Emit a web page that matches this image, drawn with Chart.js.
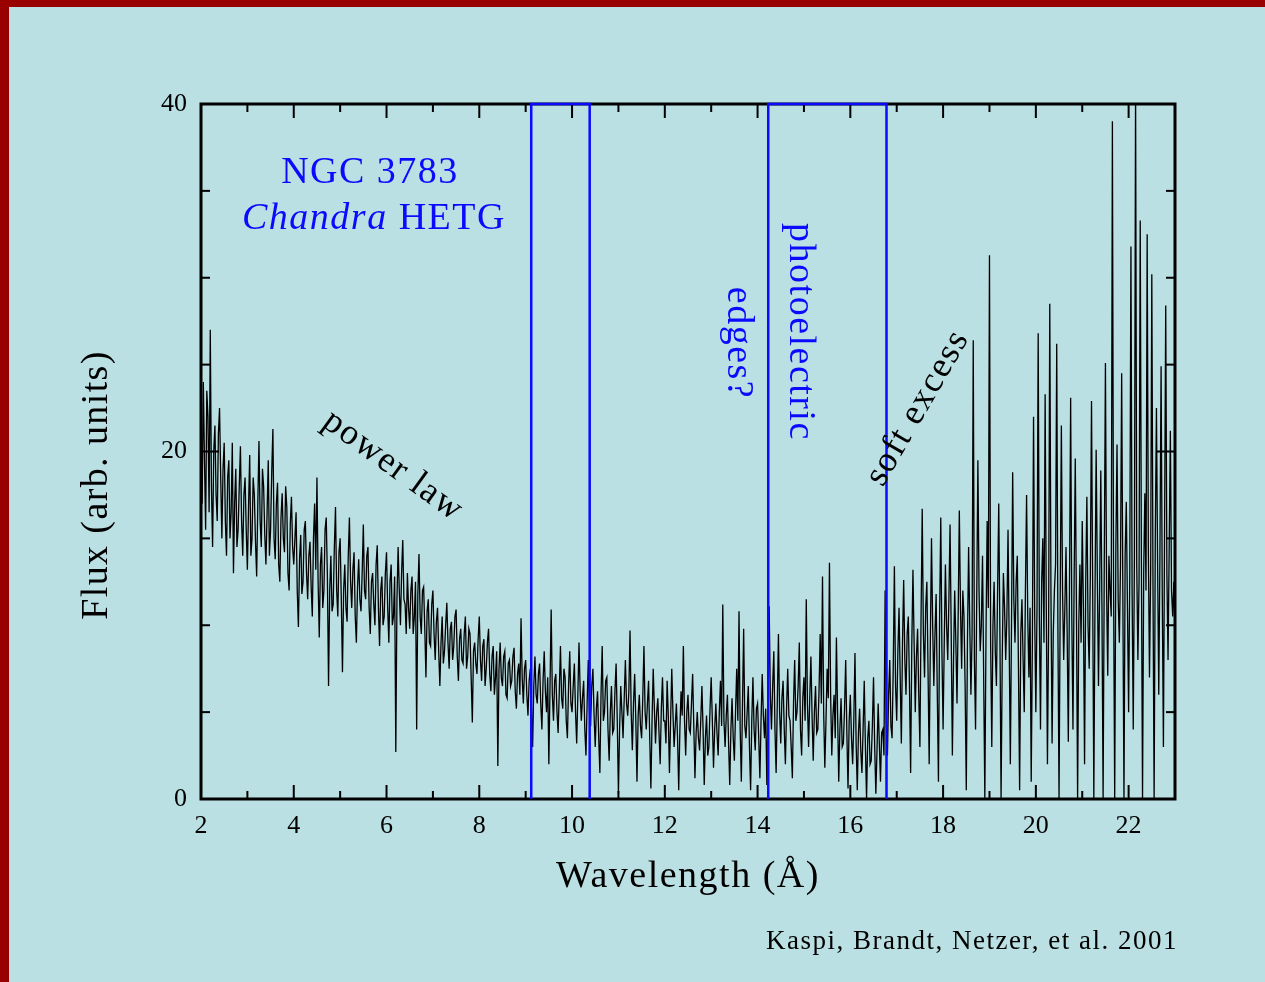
<!DOCTYPE html>
<html lang="en">
<head>
<meta charset="utf-8">
<title>NGC 3783 Chandra HETG</title>
<script src="https://cdn.jsdelivr.net/npm/chart.js@4.4.1/dist/chart.umd.min.js"></script>
<style>
    html, body { margin: 0; padding: 0; overflow: hidden; background: #bbe0e3; }
    canvas { display: block; }
</style>
</head>
<body>
<canvas id="grafico" width="1265" height="982"></canvas>
<script>
// Espectro, un valor cada 0.025 A desde 2.000 A
const wavelengthStart = 2.0;
const wavelengthStep = 0.025;

const flux = [
    // 2.000 - 2.975
    21.5, 17.0, 24.0, 19.5, 15.5, 23.5, 22.0, 16.5, 27.0, 18.0, 14.5, 20.0, 21.5, 17.5, 16.0, 21.0, 22.5, 18.5, 15.0, 19.0,
    20.5, 16.0, 14.0, 18.5, 19.5, 15.0, 16.5, 20.5, 13.0, 17.0, 19.0, 14.5, 15.5, 18.0, 20.3, 16.0, 14.0, 17.5, 18.5, 15.5,
    // 3.000 - 3.975
    13.2, 16.8, 19.8, 14.0, 15.0, 18.5, 17.5, 14.8, 12.8, 17.0, 20.6, 16.0, 14.5, 19.0, 18.0, 15.2, 13.5, 16.5, 19.5, 14.0,
    15.5, 18.8, 21.3, 15.0, 13.8, 17.0, 18.2, 13.5, 12.5, 16.2, 17.6, 15.0, 14.2, 18.0, 16.8, 13.0, 12.0, 15.8, 17.4, 14.5,
    // 4.000 - 4.975
    13.5, 15.0, 16.5, 12.0, 9.9, 13.8, 15.2, 11.8, 12.5, 15.5, 16.0, 13.0, 11.5, 14.0, 14.8, 12.2, 10.5, 15.0, 17.0, 13.2,
    18.5, 12.5, 9.3, 13.5, 14.5, 11.0, 12.0, 15.5, 16.2, 12.8, 6.5, 12.0, 14.0, 10.8, 11.2, 14.5, 16.8, 12.0, 10.5, 14.2,
    // 5.000 - 5.975
    15.0, 11.5, 7.3, 12.0, 13.5, 11.0, 10.2, 14.0, 16.2, 12.5, 11.0, 13.2, 14.2, 10.5, 9.0, 12.2, 13.8, 11.5, 10.8, 13.0,
    15.8, 12.0, 11.5, 14.0, 14.5, 11.0, 9.5, 12.5, 13.0, 11.2, 10.0, 13.5, 14.6, 11.0, 8.8, 12.0, 12.8, 10.0, 10.5, 13.0,
    // 6.000 - 6.975
    14.2, 11.0, 9.0, 12.5, 13.5, 10.0, 10.5, 12.8, 2.7, 11.5, 14.5, 12.0, 10.0, 13.0, 14.9, 11.5, 11.2, 9.5, 13.0, 11.0,
    9.8, 12.0, 12.8, 9.5, 10.5, 12.5, 4.0, 11.8, 14.1, 10.5, 9.5, 12.0, 12.2, 9.8, 7.0, 10.8, 11.5, 9.0, 8.8, 11.2,
    // 7.000 - 7.975
    12.0, 9.5, 8.0, 10.2, 11.0, 8.5, 6.5, 9.0, 10.5, 7.8, 8.5, 10.0, 11.3, 9.0, 7.5, 9.8, 10.2, 8.0, 8.8, 10.5,
    10.9, 8.2, 6.8, 9.2, 9.8, 8.0, 7.8, 9.5, 10.5, 7.5, 8.2, 9.8, 9.5, 7.0, 4.4, 8.5, 9.0, 7.8, 7.2, 9.2,
    // 8.000 - 8.975
    10.5, 8.0, 6.8, 8.8, 9.2, 6.5, 7.5, 9.0, 9.8, 7.2, 6.2, 8.2, 8.8, 6.0, 7.0, 8.5, 1.9, 7.5, 9.0, 7.0,
    6.5, 8.2, 8.5, 6.0, 5.8, 7.8, 8.0, 6.5, 6.8, 8.2, 8.7, 6.2, 5.2, 7.2, 7.8, 6.0, 10.4, 7.0, 5.5, 7.5,
    // 9.000 - 9.975
    8.0, 6.0, 4.8, 6.8, 7.5, 5.2, 3.0, 6.5, 8.2, 6.0, 5.5, 7.2, 7.8, 5.5, 4.0, 6.8, 8.5, 6.2, 5.0, 7.0,
    2.0, 6.5, 10.9, 6.0, 4.5, 6.8, 7.2, 5.0, 3.8, 6.2, 8.8, 5.8, 5.2, 7.5, 7.0, 4.5, 3.5, 6.5, 8.5, 5.5,
    // 10.000 - 10.975
    5.0, 6.5, 7.8, 5.0, 3.2, 6.0, 9.0, 6.2, 4.5, 5.8, 6.8, 4.0, 2.5, 5.5, 8.0, 5.0, 4.2, 6.5, 7.5, 4.8,
    3.0, 5.2, 6.2, 3.5, 1.5, 6.0, 8.8, 4.5, 5.0, 6.8, 7.0, 4.0, 2.2, 5.0, 6.5, 3.8, 4.0, 6.2, 7.8, 4.5,
    // 11.000 - 11.975
    0.3, 4.0, 6.5, 5.0, 3.5, 5.8, 8.0, 5.5, 4.8, 6.2, 9.7, 5.0, 2.8, 5.5, 7.2, 4.5, 1.0, 4.8, 6.0, 4.2,
    3.5, 5.8, 8.8, 5.0, 4.0, 5.5, 6.8, 3.5, 0.6, 4.5, 7.5, 5.2, 3.2, 5.0, 5.8, 3.8, 2.0, 5.2, 7.0, 4.5,
    // 12.000 - 12.975
    4.5, 3.2, 6.8, 4.8, 1.5, 4.5, 7.5, 5.0, 3.0, 4.2, 5.5, 3.5, 0.5, 4.0, 6.2, 4.8, 8.8, 4.5, 2.5, 5.0,
    6.0, 4.0, 3.8, 5.5, 7.2, 4.2, 1.2, 3.8, 5.0, 3.5, 2.8, 4.5, 6.5, 4.0, 0.8, 3.5, 4.8, 2.5, 3.0, 5.2,
    // 13.000 - 13.975
    7.0, 4.5, 1.8, 4.0, 5.5, 3.8, 2.5, 5.0, 6.8, 4.2, 11.2, 4.5, 3.0, 4.8, 6.0, 3.2, 0.8, 4.0, 5.8, 3.5,
    2.2, 5.0, 7.5, 4.5, 10.8, 4.0, 1.0, 5.5, 9.8, 4.2, 3.5, 5.0, 6.5, 3.0, 0.5, 4.5, 7.0, 4.0, 2.8, 5.2,
    // 14.000 - 14.975
    5.5, 3.5, 1.2, 4.5, 7.2, 4.8, 3.5, 5.2, 0.8, 5.0, 11.1, 6.0, 4.0, 6.5, 8.5, 4.0, 1.5, 5.5, 9.5, 5.0,
    3.2, 5.8, 6.8, 4.0, 2.0, 5.2, 7.5, 4.8, 4.5, 3.0, 1.2, 5.5, 8.0, 4.5, 5.0, 6.5, 9.0, 4.0, 2.5, 5.8,
    // 15.000 - 15.975
    7.0, 4.5, 11.5, 5.5, 3.0, 5.8, 8.2, 4.8, 2.2, 5.0, 6.5, 3.8, 4.0, 6.2, 9.5, 5.5, 12.8, 5.0, 1.8, 4.5,
    7.5, 5.8, 13.6, 6.0, 2.5, 4.8, 6.0, 3.5, 9.3, 5.0, 1.0, 4.0, 5.8, 3.0, 3.2, 5.2, 8.0, 3.8, 0.6, 4.5,
    // 16.000 - 16.975
    6.0, 3.5, 2.0, 4.5, 8.4, 3.2, 0.5, 3.8, 5.2, 2.8, 1.5, 4.0, 6.8, 3.0, 0.0, 3.5, 4.5, 2.0, 2.2, 4.2,
    7.0, 3.0, 0.3, 2.8, 5.5, 3.2, 1.0, 3.8, 4.0, 2.5, 12.0, 4.5, 2.5, 6.0, 8.0, 4.2, 3.5, 7.5, 13.4, 6.5,
    // 17.000 - 17.975
    4.5, 8.5, 11.0, 7.0, 3.2, 9.0, 12.6, 8.0, 6.0, 9.5, 10.5, 6.5, 1.5, 8.8, 13.2, 9.0, 5.0, 8.2, 9.8, 6.0,
    3.0, 10.5, 16.7, 9.5, 7.0, 11.0, 12.5, 7.5, 2.0, 9.0, 15.0, 10.0, 6.5, 9.5, 11.8, 6.0, 1.0, 10.5, 16.2, 8.5,
    // 18.000 - 18.975
    4.0, 9.0, 13.5, 10.0, 8.0, 11.5, 15.8, 9.5, 2.5, 8.0, 12.0, 9.0, 5.5, 10.5, 16.6, 11.0, 7.5, 12.0, 10.5, 6.5,
    0.5, 9.0, 14.5, 10.0, 6.0, 9.5, 26.4, 8.0, 4.0, 11.5, 19.5, 12.0, 8.5, 10.0, 14.0, 7.0, 0.0, 9.5, 16.0, 11.0,
    // 19.000 - 19.975
    31.3, 9.0, 3.0, 10.0, 12.5, 8.5, 6.5, 12.0, 17.0, 9.5, 0.0, 8.0, 13.0, 11.0, 8.0, 10.5, 15.5, 9.0, 2.0, 10.0,
    18.8, 11.5, 9.0, 12.5, 14.0, 7.5, 0.5, 9.5, 11.5, 8.0, 5.0, 12.0, 17.5, 10.5, 7.0, 11.0, 1.0, 9.0, 22.0, 10.5,
    // 20.000 - 20.975
    5.0, 11.0, 26.8, 10.5, 4.0, 12.5, 15.0, 9.0, 23.3, 11.0, 2.0, 10.0, 28.5, 12.0, 3.2, 9.5, 12.0, 13.5, 26.2, 10.0,
    0.0, 11.5, 21.5, 12.0, 8.0, 11.0, 14.5, 9.5, 3.3, 12.0, 23.1, 10.5, 4.0, 12.5, 19.6, 11.0, 0.0, 10.0, 13.5, 9.0,
    // 21.000 - 21.975
    16.0, 11.0, 2.0, 12.5, 17.4, 10.0, 7.5, 13.0, 22.9, 12.0, 0.0, 11.5, 20.1, 13.0, 6.5, 12.0, 18.9, 11.0, 0.0, 13.5,
    25.1, 12.0, 7.1, 14.0, 12.0, 10.5, 39.0, 12.5, 0.0, 14.5, 20.4, 11.5, 9.0, 13.5, 24.5, 12.0, 0.0, 14.0, 17.1, 11.0,
    // 22.000 - 22.975
    5.0, 13.0, 31.8, 12.0, 4.0, 14.0, 41.0, 13.5, 8.0, 12.5, 33.3, 14.0, 0.0, 13.0, 17.6, 12.0, 32.5, 14.5, 7.0, 13.0,
    30.2, 12.5, 0.0, 15.0, 22.5, 13.5, 6.0, 14.0, 24.9, 12.0, 3.0, 15.5, 28.4, 13.0, 8.0, 14.5, 21.2, 12.0, 10.5, 12.5,
    // 23.000
    9.5
];

// Bandas de los posibles bordes fotoelectricos (A)
const edgeBands = [[9.12, 10.38], [14.23, 16.78]];

const xTickValues = [2, 4, 6, 8, 10, 12, 14, 16, 18, 20, 22];
const xMinorTicks = [3, 5, 7, 9, 11, 13, 15, 17, 19, 21, 23];
const yTickValues = [0, 20, 40];
const yMinorTicks = [5, 10, 15, 25, 30, 35];

const SERIF = '"Liberation Serif", "Times New Roman", serif';
const AZUL = '#0a0aff';

document.addEventListener('DOMContentLoaded', () => {
    dibujarGrafico();
});

function dibujarGrafico() {
    const puntos = flux.map((f, i) => ({
        x: +(wavelengthStart + i * wavelengthStep).toFixed(3),
        y: f
    }));

    // Cada banda es un rectangulo abierto por abajo
    const bandas = edgeBands.map(([a, b]) => ({
        data: [{ x: a, y: 0 }, { x: a, y: 40 }, { x: b, y: 40 }, { x: b, y: 0 }],
        borderColor: AZUL,
        borderWidth: 2.5,
        pointRadius: 0,
        clip: false,
        order: 0
    }));

    const ctx = document.getElementById('grafico').getContext('2d');
    new Chart(ctx, {
        type: 'line',
        data: {
            datasets: [{
                data: puntos,
                borderColor: '#000000',
                borderWidth: 1.3,
                pointRadius: 0,
                tension: 0,
                order: 1
            }, ...bandas]
        },
        options: {
            responsive: false,
            animation: false,
            events: [],
            layout: { padding: { left: 0, right: 90, top: 104, bottom: 0 } },
            plugins: {
                legend: { display: false },
                tooltip: { enabled: false }
            },
            scales: {
                x: {
                    type: 'linear',
                    min: 2,
                    max: 23,
                    grid: { display: false, drawTicks: false },
                    border: { display: false },
                    ticks: {
                        color: '#000',
                        padding: 12,
                        maxRotation: 0,
                        font: { family: SERIF, size: 26 }
                    },
                    afterBuildTicks: (axis) => {
                        axis.ticks = xTickValues.map(v => ({ value: v }));
                    },
                    afterFit: (axis) => { axis.height = 183; }
                },
                y: {
                    min: 0,
                    max: 40,
                    grid: { display: false, drawTicks: false },
                    border: { display: false },
                    ticks: {
                        color: '#000',
                        padding: 14,
                        font: { family: SERIF, size: 26 }
                    },
                    afterBuildTicks: (axis) => {
                        axis.ticks = yTickValues.map(v => ({ value: v }));
                    },
                    afterFit: (axis) => { axis.width = 201; }
                }
            }
        },
        plugins: [fondoPlugin, marcoPlugin, textosPlugin]
    });
}

// Fondo celeste con el borde rojo arriba y a la izquierda
const fondoPlugin = {
    id: 'fondo',
    beforeDraw(chart) {
        const { ctx, width, height } = chart;
        ctx.save();
        ctx.fillStyle = '#990000';
        ctx.fillRect(0, 0, width, height);
        ctx.fillStyle = '#bbe0e3';
        ctx.fillRect(9, 7, width - 9, height - 7);
        ctx.restore();
    }
};

// Marco y marcas hacia adentro en los cuatro lados
const marcoPlugin = {
    id: 'marco',
    beforeDatasetsDraw(chart) {
        const { ctx, chartArea: a, scales: { x, y } } = chart;
        ctx.save();
        ctx.strokeStyle = '#000';
        ctx.lineWidth = 3;
        ctx.strokeRect(a.left, a.top, a.right - a.left, a.bottom - a.top);

        ctx.lineWidth = 2;
        const linea = (x1, y1, x2, y2) => {
            ctx.beginPath();
            ctx.moveTo(x1, y1);
            ctx.lineTo(x2, y2);
            ctx.stroke();
        };
        xTickValues.concat(xMinorTicks).forEach(v => {
            const px = x.getPixelForValue(v);
            const largo = xTickValues.includes(v) ? 14 : 8;
            linea(px, a.bottom, px, a.bottom - largo);
            linea(px, a.top, px, a.top + largo);
        });
        yTickValues.concat(yMinorTicks).forEach(v => {
            const py = y.getPixelForValue(v);
            const largo = yTickValues.includes(v) ? 18 : 9;
            linea(a.left, py, a.left + largo, py);
            linea(a.right, py, a.right - largo, py);
        });
        ctx.restore();
    }
};

function escribir(ctx, texto, x, y, angulo, fuente, color, espaciado, alinear) {
    ctx.save();
    ctx.translate(x, y);
    ctx.rotate(angulo * Math.PI / 180);
    ctx.font = fuente;
    ctx.fillStyle = color;
    ctx.letterSpacing = espaciado + 'px';
    ctx.textAlign = alinear || 'center';
    ctx.textBaseline = 'middle';
    ctx.fillText(texto, 0, 0);
    ctx.restore();
}

// Titulos de ejes y anotaciones
const textosPlugin = {
    id: 'textos',
    afterDraw(chart) {
        const { ctx } = chart;

        escribir(ctx, 'Flux (arb. units)', 97, 485, -90, `38px ${SERIF}`, '#000', 1.4);
        escribir(ctx, 'Wavelength (Å)', 688, 877, 0, `38px ${SERIF}`, '#000', 1.5);
        escribir(ctx, 'Kaspi, Brandt, Netzer, et al. 2001', 1178, 942, 0, `27px ${SERIF}`, '#000', 1.5, 'right');

        escribir(ctx, 'NGC 3783', 370, 173, 0, `38px ${SERIF}`, AZUL, 1.5);

        // "Chandra" en cursiva seguido de "HETG"
        ctx.save();
        ctx.letterSpacing = '1.5px';
        ctx.font = `italic 38px ${SERIF}`;
        const anchoItal = ctx.measureText('Chandra').width;
        ctx.font = `38px ${SERIF}`;
        const anchoResto = ctx.measureText(' HETG').width;
        ctx.restore();
        const inicio = 374 - (anchoItal + anchoResto) / 2;
        escribir(ctx, 'Chandra', inicio, 219, 0, `italic 38px ${SERIF}`, AZUL, 1.5, 'left');
        escribir(ctx, ' HETG', inicio + anchoItal, 219, 0, `38px ${SERIF}`, AZUL, 1.5, 'left');

        escribir(ctx, 'power law', 393, 466, 36, `36px ${SERIF}`, '#000', 1.5);
        escribir(ctx, 'photoelectric', 800, 332, 90, `38px ${SERIF}`, AZUL, 1.5);
        escribir(ctx, 'edges?', 738, 343, 90, `38px ${SERIF}`, AZUL, 1.5);
        escribir(ctx, 'soft excess', 918, 408, -60, `36px ${SERIF}`, '#000', 1.5);
    }
};
</script>
</body>
</html>
